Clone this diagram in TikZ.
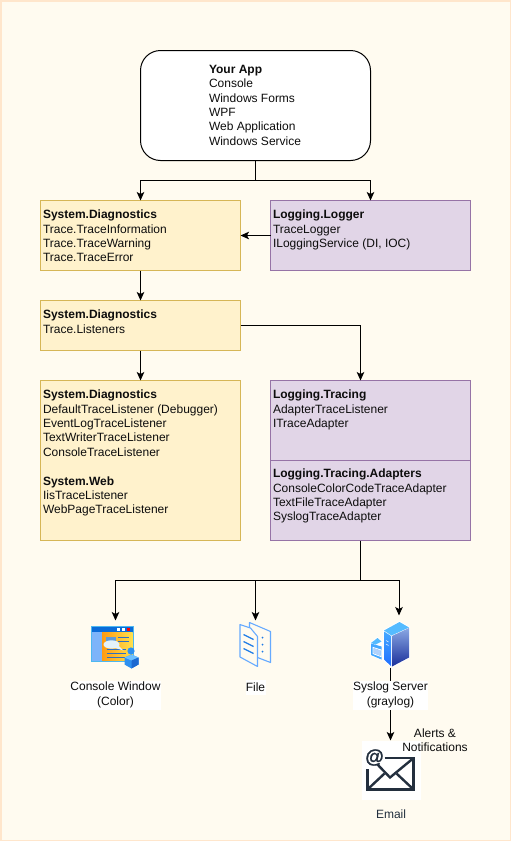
\documentclass[tikz,border=0pt]{standalone}
\usepackage{fontspec}
\setmainfont{Liberation Sans}
\newfontfamily\atfont[FakeBold=1.2]{Liberation Sans Bold}
\usetikzlibrary{arrows.meta}
\definecolor{pagebg}{HTML}{FFFBF0}
\definecolor{pageedge}{HTML}{FFE6CC}
\definecolor{yfill}{HTML}{FFF2CC}
\definecolor{ydraw}{HTML}{D6B656}
\definecolor{pfill}{HTML}{E1D5E7}
\definecolor{pdraw}{HTML}{9673A6}
\definecolor{mailc}{HTML}{232F3E}
\definecolor{iconline}{HTML}{66AAFF}
\definecolor{iconblue}{HTML}{1E7BE6}
\definecolor{cframe}{HTML}{4DB8F0}
\definecolor{ctitle}{HTML}{0A6BD8}
\definecolor{cpanel}{HTML}{7DB4FA}
\definecolor{corange}{HTML}{FF9A10}
\definecolor{cyellow}{HTML}{FFE04D}
\definecolor{cpict}{HTML}{5F9AD8}
\definecolor{cbubble}{HTML}{E4F2FA}
\definecolor{cline}{HTML}{2F6FC0}
\definecolor{clight}{HTML}{6DC0FF}
\definecolor{cmid}{HTML}{2E90F0}
\definecolor{cdark}{HTML}{1C68D0}
\definecolor{stop}{HTML}{55BBFF}
\definecolor{sleftA}{HTML}{45A8FF}
\definecolor{sleftB}{HTML}{1E6EFF}
\definecolor{srightA}{HTML}{8AA8E4}
\definecolor{srightB}{HTML}{1A2F9A}
\tikzset{
  x=1pt,y=-1pt,
  every node/.style={font=\fontsize{12}{14.4}\selectfont,text=black!95},
  ybox/.style={draw=ydraw,fill=yfill,line width=0.9pt,minimum width=200pt,inner sep=0pt,outer sep=0pt,anchor=north west},
  pbox/.style={draw=pdraw,fill=pfill,line width=0.9pt,minimum width=200pt,inner sep=0pt,outer sep=0pt,anchor=north west},
  lbl/.style={anchor=north west,align=left,inner sep=0pt,outer sep=0pt},
  captxt/.style={align=center,inner sep=0pt,outer sep=0pt},
  capw/.style={captxt,fill=white},
  conn/.style={draw=black,line width=1pt,-{Stealth[length=8.5pt,width=7.5pt,inset=2pt]}},
  wire/.style={draw=black,line width=1pt},
}
\begin{document}
\begin{tikzpicture}
\useasboundingbox (0.5,0.5) rectangle (511.5,841.5);
\fill[pageedge] (0.5,0.5) rectangle (511.5,841.5);
\fill[pagebg] (2,2) rectangle (510,840);

% boxes
\node[draw=black,fill=white,line width=1pt,rounded corners=20pt,minimum width=230pt,minimum height=110pt,inner sep=0pt,outer sep=0pt,anchor=north west] (app) at (141,51) {};
\node[ybox,minimum height=70pt] (diag1) at (41,201) {};
\node[pbox,minimum height=70pt] (logger) at (271,201) {};
\node[ybox,minimum height=50pt] (diag2) at (41,301) {};
\node[ybox,minimum height=160pt] (diag3) at (41,381) {};
\node[pbox,minimum height=80pt] (tracing) at (271,381) {};
\node[pbox,minimum height=80pt] (adapters) at (271,461) {};

% box text
\node[lbl] (apptxt) at (209.5,65.5) {\textbf{Your App}\\Console\\Windows Forms\\WPF\\Web Application\\Windows Service};
\node[lbl] (diag1txt) at (43.5,210.5) {\textbf{System.Diagnostics}\\Trace.TraceInformation\\Trace.TraceWarning\\Trace.TraceError};
\node[lbl] (loggertxt) at (273.5,210.5) {\textbf{Logging.Logger}\\TraceLogger\\ILoggingService (DI, IOC)};
\node[lbl] (diag2txt) at (43.5,310.5) {\textbf{System.Diagnostics}\\Trace.Listeners};
\node[lbl] (diag3txt) at (43.5,390.5) {\textbf{System.Diagnostics}\\DefaultTraceListener (Debugger)\\EventLogTraceListener\\TextWriterTraceListener\\ConsoleTraceListener\\[14.4pt]\textbf{System.Web}\\IisTraceListener\\WebPageTraceListener};
\node[lbl] (tracingtxt) at (273.5,390.5) {\textbf{Logging.Tracing}\\AdapterTraceListener\\ITraceAdapter};
\node[lbl] (adapterstxt) at (273.5,469.5) {\textbf{Logging.Tracing.Adapters}\\ConsoleColorCodeTraceAdapter\\TextFileTraceAdapter\\SyslogTraceAdapter};

% targets
\coordinate (consoleicon) at (116,621);
\coordinate (fileicon) at (256,621);
\coordinate (servericon) at (399.5,616);
\coordinate (servertop) at (391,668);
\coordinate (split) at (361,581);
\coordinate (appfork) at (256,181);

% connectors
\draw[wire] (app.south) -- (appfork);
\draw[conn] (appfork) -| (diag1.north);
\draw[conn] (appfork) -| (logger.north);
\draw[conn] (logger.west) -- (diag1.east);
\draw[conn] (diag1.south) -- (diag2.north);
\draw[conn] (diag2.south) -- (diag3.north);
\draw[conn] (diag2.east) -| (split |- tracing.north);
\draw[wire] (split |- adapters.south) -- (split);
\draw[conn] (split) -| (consoleicon);
\draw[conn] (split) -| (fileicon);
\draw[conn] (split) -| (servericon);

% email connector passes behind the server caption
\node[fill=white,minimum width=59pt,minimum height=59pt,inner sep=0pt,outer sep=0pt,anchor=north west] (mail) at (362,741) {};
\draw[conn] (servertop) -- (mail.north -| servertop);

% console icon
\fill[cframe] (91,626) rectangle (134,662);
\fill[ctitle] (92,627) rectangle (133,632.5);
\shade[left color=corange,right color=cyellow] (102,632.5) rectangle (133,661);
\fill[cpanel] (92,632.5) rectangle (102,661);
\fill[white] (117,628) rectangle (120,631);
\fill[white] (122,628) rectangle (125,631);
\fill[red] (127,628) rectangle (130,631);
\fill[cpict] (106,637) rectangle (116,646);
\foreach \yy in {638,642} \draw[cline,line width=.8pt] (118,\yy) -- (129,\yy);
\foreach \yy in {650,654,658} \draw[cline,line width=.8pt] (107,\yy) -- (126,\yy);
\fill[cbubble] (112,645) ellipse (8pt and 4.2pt);
\fill[cbubble] (114,648) -- (124,651) -- (119,646) -- cycle;
\fill[cmid] (125,658) -- (132,655) -- (139,658) -- (139,665) -- (132,669) -- (125,665) -- cycle;
\fill[clight] (125,658) -- (132,655) -- (139,658) -- (132,661) -- cycle;
\fill[cdark] (132,661) -- (139,658) -- (139,665) -- (132,669) -- cycle;
\fill[cmid] (131.5,651.5) circle (3.6pt);

% file icon
\draw[iconline,fill=pagebg,line width=1.1pt,line join=round] (250,623) -- (271,632) -- (271,663) -- (258,658) -- (250,650) -- cycle;
\draw[iconline,fill=pagebg,line width=1.1pt,line join=round] (240.5,625) -- (251,628.5) -- (258,637) -- (258,667) -- (240.5,657.5) -- cycle;
\foreach \yy in {635,642,649} \draw[iconblue,line width=1.3pt] (244,\yy) -- (254,\yy+5);
\foreach \yy in {638,645,652} \fill[iconblue] (263,\yy) circle (1pt);

% server icon
\fill[white] (370.5,643) -- (378,637.5) -- (383,641.5) -- (383,661) -- (370.5,656) -- cycle;
\fill[stop] (371.5,643.5) -- (378,638.5) -- (382,642) -- (376,645) -- cycle;
\fill[sleftA] (371.5,644) -- (382,647) -- (382,660) -- (371.5,655.5) -- cycle;
\draw[white,line width=1pt] (373.5,648) -- (381.5,650.5) -- (381.5,657) -- (373.5,654) -- cycle;
\fill[cpanel!60!white] (374,648.5) -- (381,651) -- (381,656.5) -- (374,653.5) -- cycle;
\fill[white] (383.5,630.5) -- (400,621.5) -- (410.5,627.5) -- (410.5,658.5) -- (392,668) -- (383.5,660.5) -- cycle;
\fill[stop] (384.5,631) -- (400,622.5) -- (409.5,628) -- (392,636) -- cycle;
\shade[top color=sleftA,bottom color=sleftB] (384.5,632) -- (391.5,636.5) -- (391.5,666.5) -- (384.5,660) -- cycle;
\shade[top color=srightA,bottom color=srightB] (392.5,636.5) -- (409.5,628.5) -- (409.5,658) -- (392.5,667) -- cycle;
\draw[white,line width=.5pt] (386.5,641) -- (389,642.5) (386.5,644.5) -- (389,646);

% captions
\node[capw,minimum width=91pt,minimum height=29pt] (consolecap) at (116,695.5) {Console Window\\(Color)};
\node[capw,minimum width=20pt,minimum height=15pt] (filecap) at (256,688) {File};
\node[capw,minimum width=75pt,minimum height=29pt] (servercap) at (391,695.5) {Syslog Server\\(graylog)};
\node[captxt] (alerts) at (435.5,741) {Alerts \&\\Notifications};

% email icon
\begin{scope}[draw=mailc,line width=2.4pt,line join=miter]
\draw (385,758.5) -- (414,758.5) -- (414,790) -- (368,790) -- (368,769);
\draw (368.5,789.5) -- (385,774) (413.5,789.5) -- (397,774);
\draw (378,765) -- (390.5,778) -- (413.5,759);
\end{scope}
\node[font=\fontsize{19}{19}\atfont,text=mailc,inner sep=0pt] (atsign) at (375,758) {@};
\node[captxt,text=mailc] (emailcap) at (391.5,815) {Email};
\end{tikzpicture}
\end{document}
